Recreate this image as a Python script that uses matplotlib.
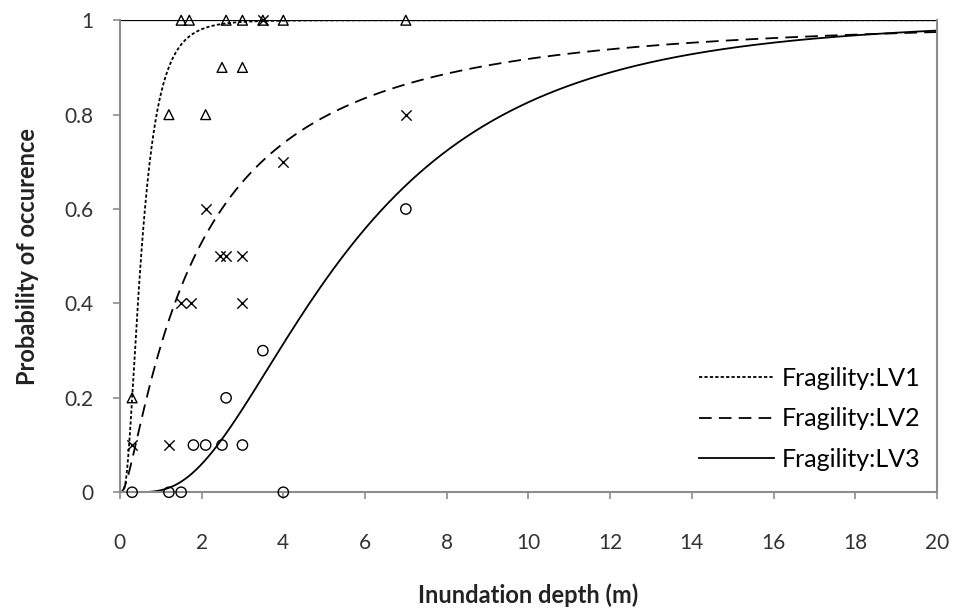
import math
import numpy as np
import matplotlib
matplotlib.use('Agg')
import matplotlib.pyplot as plt

plt.rcParams['font.family'] = ['Lato', 'DejaVu Sans']

# observed points (depth m, probability)
lv1_x = [1.5, 1.7, 2.6, 3.0, 3.5, 4.0, 7.0, 2.5, 3.0, 1.2, 2.1, 0.3]
lv1_y = [1.0, 1.0, 1.0, 1.0, 1.0, 1.0, 1.0, 0.9, 0.9, 0.8, 0.8, 0.2]

lv2_x = [3.5, 7.0, 4.0, 2.1, 2.45, 2.6, 3.0, 1.5, 1.75, 3.0, 1.2, 0.3]
lv2_y = [1.0, 0.8, 0.7, 0.6, 0.5, 0.5, 0.5, 0.4, 0.4, 0.4, 0.1, 0.1]

lv3_x = [7.0, 3.5, 2.6, 1.8, 2.1, 2.5, 3.0, 0.3, 1.2, 1.5, 4.0]
lv3_y = [0.6, 0.3, 0.2, 0.1, 0.1, 0.1, 0.1, 0.0, 0.0, 0.0, 0.0]

# lognormal fragility parameters (median, beta)
medians = [0.52, 1.83, 5.46]
betas = [0.65, 1.22, 0.644]
labels = ['Fragility:LV1', 'Fragility:LV2', 'Fragility:LV3']
styles = [(0, (1.8, 1.2)), (0, (7, 4)), '-']


def fragility(x, m, b):
    return np.array([0.5 * (1 + math.erf(math.log(v / m) / (b * math.sqrt(2)))) for v in x])


fig = plt.figure(figsize=(9.59, 6.13), dpi=100)
ax = fig.add_axes([0.125, 0.197, 0.852, 0.77])

xs = np.linspace(0.01, 20, 2000)
for m, b, lab, ls in zip(medians, betas, labels, styles):
    ax.plot(xs, fragility(xs, m, b), color='black', lw=1.3, ls=ls, label=lab)

ax.axhline(1.0, color='black', lw=1.6, zorder=1)

ax.scatter(lv1_x, lv1_y, marker='^', facecolors='none', edgecolors='black', s=50,
           clip_on=False, zorder=3, linewidths=1.0)
ax.scatter(lv2_x, lv2_y, marker='x', color='black', s=55, clip_on=False, zorder=3, linewidths=1.0)
ax.scatter(lv3_x, lv3_y, marker='o', facecolors='none', edgecolors='black', s=55,
           clip_on=False, zorder=3, linewidths=1.0)

ax.set_xlim(0, 20)
ax.set_ylim(0, 1)
ax.set_xticks(range(0, 21, 2))
ax.set_yticks([0, 0.2, 0.4, 0.6, 0.8, 1])
ax.set_yticklabels(['0', '0.2', '0.4', '0.6', '0.8', '1'])

for s in ax.spines.values():
    s.set_color('#8c8c8c')
    s.set_linewidth(1.5)
ax.spines['top'].set_visible(False)
ax.tick_params(colors='#8c8c8c', labelcolor='#333333', labelsize=15, length=5, width=1.2)
ax.tick_params(axis='x', pad=24)
ax.tick_params(axis='y', pad=14)

ax.set_xlabel('Inundation depth (m)', fontsize=17, fontweight='bold', color='#222222', labelpad=22)
ax.set_ylabel('Probability of occurence', fontsize=17, fontweight='bold', color='#222222', labelpad=18)

ax.legend(loc='lower right', bbox_to_anchor=(0.98, 0.045), frameon=False, fontsize=18,
          handlelength=3.0, handletextpad=0.3, labelspacing=0.7, borderaxespad=0, borderpad=0)

fig.savefig('out.png', dpi=100)
